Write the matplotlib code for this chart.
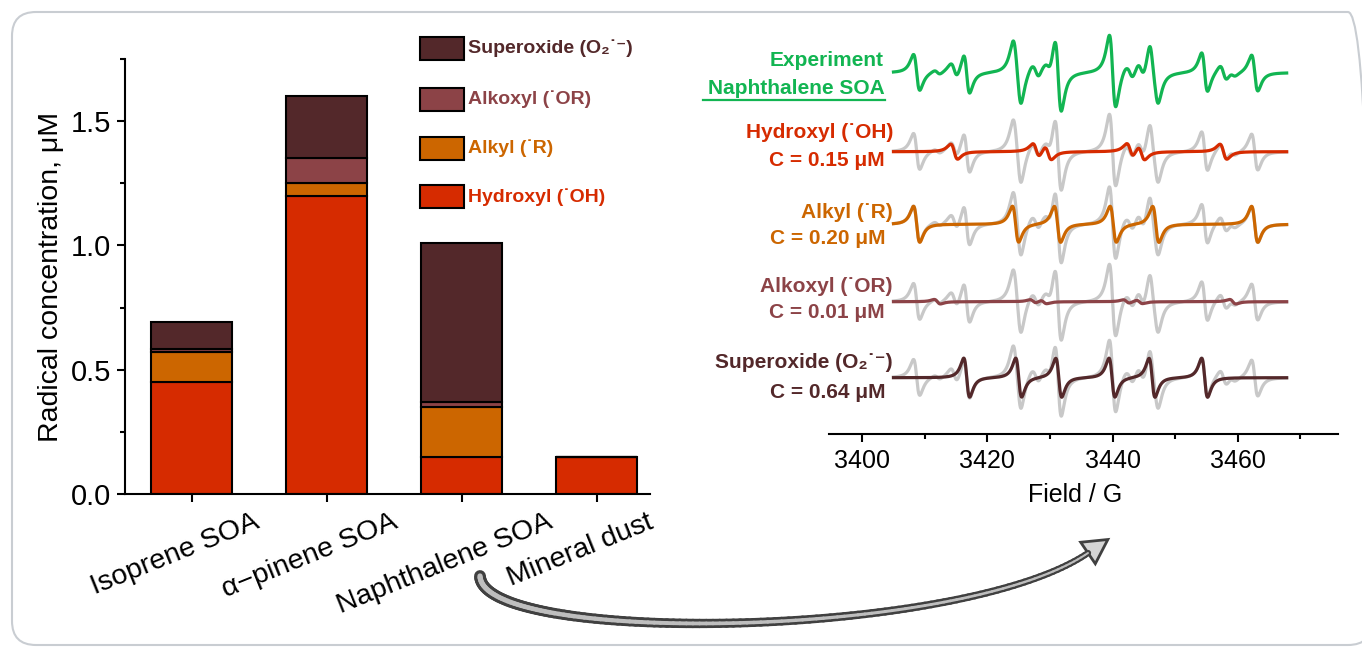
import numpy as np
import matplotlib
matplotlib.use("Agg")
import matplotlib.pyplot as plt
from matplotlib.patches import FancyBboxPatch, Rectangle, Polygon
from matplotlib.lines import Line2D
from matplotlib.collections import LineCollection
from matplotlib.transforms import ScaledTranslation, IdentityTransform
from matplotlib.ticker import MultipleLocator, FixedLocator

plt.rcParams['font.family'] = ['Liberation Sans', 'DejaVu Sans']

# ---------------- bar chart data ----------------
samples = ['Isoprene SOA', 'α−pinene SOA', 'Naphthalene SOA', 'Mineral dust']
hydroxyl = [0.45, 1.20, 0.15, 0.15]
alkyl = [0.12, 0.05, 0.20, 0.00]
alkoxyl = [0.015, 0.10, 0.02, 0.00]
superoxide = [0.105, 0.25, 0.64, 0.00]
species_names = ['Hydroxyl (˙OH)', 'Alkyl (˙R)', 'Alkoxyl (˙OR)', 'Superoxide (O₂˙⁻)']
species_colors = ['#D62B00', '#CC6600', '#8C4347', '#53282A']
yticks_left = [0.0, 0.5, 1.0, 1.5]

# ---------------- EPR spectra data (line positions in G, peak-to-peak heights) ----------------
field_range = [3405.0, 3467.8]
oh_lines = [3414.7, 3427.8, 3429.7, 3442.8, 3444.6, 3457.7]
oh_ptp = [15, 14, 14, 14, 14, 15]
r_lines = [3408.7, 3424.5, 3431.2, 3440.1, 3446.9, 3462.7]
r_ptp = [36, 36, 36, 36, 36, 36]
or_lines = [3412.0, 3427.3, 3429.0, 3442.2, 3444.3, 3459.2]
or_ptp = [4.5, 3.5, 3.5, 3.5, 3.5, 4.5]
o2_lines = [3416.7, 3425.0, 3431.4, 3439.9, 3446.3, 3454.7]
o2_ptp = [39, 39, 39, 39, 39, 39]
line_width_G = [1.1, 1.0, 1.0, 0.95]   # OH, R, OR, O2 peak-to-peak widths
concentrations = ['0.15', '0.20', '0.01', '0.64']
xticks_right = [3400, 3420, 3440, 3460]

W, H = 1362, 650
fig = plt.figure(figsize=(W / 100, H / 100), dpi=100)
fig.patch.set_facecolor('white')


def fx(px):
    return px / W


def fy(py):
    return 1 - py / H


# frame
frame = FancyBboxPatch((12, 5), 1372 - 12, 633, boxstyle="round,pad=0,rounding_size=24",
                       transform=IdentityTransform(), facecolor='none',
                       edgecolor='#C9CDD2', linewidth=1.5, zorder=0)
fig.add_artist(frame)

# ---------------- left: stacked bars ----------------
axL = fig.add_axes([fx(125), fy(494), fx(650) - fx(125), (494 - 59) / H])
xpos = np.arange(len(samples))
stack = [hydroxyl, alkyl, alkoxyl, superoxide]
bottom = np.zeros(len(samples))
for vals, col in zip(stack, species_colors):
    v = np.array(vals)
    axL.bar(xpos, v, 0.6, bottom=bottom, color=col, edgecolor='black', linewidth=1.5, zorder=2)
    bottom += v
axL.set_xlim(-0.496, 3.393)
axL.set_ylim(0, 1.75)
for s in ['top', 'right']:
    axL.spines[s].set_visible(False)
for s in ['left', 'bottom']:
    axL.spines[s].set_linewidth(1.5)
axL.yaxis.set_major_locator(FixedLocator(yticks_left))
axL.yaxis.set_minor_locator(MultipleLocator(0.25))
axL.set_yticklabels([f'{t:.1f}' for t in yticks_left])
axL.set_xticks(xpos)
axL.set_xticklabels(samples, rotation=22, ha='center', va='top')
axL.tick_params(axis='both', which='major', direction='out', length=5.8, width=1.5,
                labelsize=21, pad=4)
axL.tick_params(axis='x', which='major', labelsize=20.5, pad=5)
axL.tick_params(axis='y', which='minor', direction='out', length=3.5, width=1.5)
off = ScaledTranslation(-17 / 100, 0, fig.dpi_scale_trans)
for lab in axL.get_xticklabels():
    lab.set_transform(lab.get_transform() + off)
axL.set_ylabel('Radical concentration, μM', fontsize=20.5)
axL.yaxis.set_label_coords((64 - 125) / 525, 0.5)

# manual legend
leg_y = [48, 99, 148, 197]
for i, idx in enumerate([3, 2, 1, 0]):
    r = Rectangle((fx(420), fy(leg_y[i] + 11.5)), 44 / W, 23 / H, transform=fig.transFigure,
                  facecolor=species_colors[idx], edgecolor='black', linewidth=1.5)
    fig.add_artist(r)
    fig.text(fx(468), fy(leg_y[i]), species_names[idx], ha='left', va='center',
             fontsize=14, fontweight='bold', color=species_colors[idx])

# ---------------- right: EPR spectra ----------------
axR = fig.add_axes([fx(829), fy(434), fx(1338) - fx(829), (434 - 20) / H])
axR.set_xlim(3394.7, 3476.0)
axR.set_ylim(0, 414)
for s in ['top', 'right', 'left']:
    axR.spines[s].set_visible(False)
axR.spines['bottom'].set_linewidth(1.5)
axR.set_yticks([])
axR.xaxis.set_major_locator(FixedLocator(xticks_right))
axR.xaxis.set_minor_locator(MultipleLocator(10))
axR.tick_params(axis='x', which='major', direction='out', length=5.8, width=1.5, labelsize=18, pad=5)
axR.tick_params(axis='x', which='minor', direction='out', length=3.5, width=1.5)
axR.set_xlabel('Field / G', fontsize=18)
axR.xaxis.set_label_coords((1075 - 829) / 509, -0.118)

B = np.linspace(field_range[0], field_range[1], 3000)


def spectrum(centers, ptp, hpp):
    g = hpp * np.sqrt(3) / 2
    y = np.zeros_like(B)
    for c, a in zip(centers, ptp):
        u = (B - c) / g
        y += a * (-2 * u / (1 + u ** 2) ** 2) / 1.299
    return y


comps = [spectrum(oh_lines, oh_ptp, line_width_G[0]),
         spectrum(r_lines, r_ptp, line_width_G[1]),
         spectrum(or_lines, or_ptp, line_width_G[2]),
         spectrum(o2_lines, o2_ptp, line_width_G[3])]
experiment = comps[0] + comps[1] + comps[2] + comps[3]

green = '#12B552'
exp_base = 434 - 72.7
row_base = [434 - 151.7, 434 - 224.3, 434 - 301.7, 434 - 377.7]
axR.plot(B, experiment + exp_base, color=green, lw=2.3, solid_joinstyle='round')
for comp, base, col in zip(comps, row_base, species_colors):
    axR.plot(B, experiment + base, color='#C8C8C8', lw=2.3)
    axR.plot(B, comp + base, color=col, lw=2.3)

# right panel labels
fig.text(fx(884), fy(60), 'Experiment', ha='right', va='center', fontsize=15,
         fontweight='bold', color=green)
fig.text(fx(885), fy(88), 'Naphthalene SOA', ha='right', va='center', fontsize=15,
         fontweight='bold', color=green)
fig.add_artist(Line2D([fx(703), fx(885)], [fy(100), fy(100)], color=green, lw=1.6,
                      transform=fig.transFigure))
name_y = [133, 212, 287, 363]
conc_y = [160, 238, 313, 392]
for i in range(4):
    fig.text(fx(893), fy(name_y[i]), species_names[i], ha='right', va='center', fontsize=15,
             fontweight='bold', color=species_colors[i])
    fig.text(fx(885), fy(conc_y[i]), f'C = {concentrations[i]} μM', ha='right', va='center',
             fontsize=15, fontweight='bold', color=species_colors[i])

# ---------------- curved, tapered arrow ----------------
P = np.array([(480, 576), (482, 645), (960, 640), (1088, 553)], float)
t = np.linspace(0, 1, 120)[:, None]
curve = ((1 - t) ** 3 * P[0] + 3 * (1 - t) ** 2 * t * P[1] +
         3 * (1 - t) * t ** 2 * P[2] + t ** 3 * P[3])
pts = np.column_stack([curve[:, 0] / W, 1 - curve[:, 1] / H])
segs = np.stack([pts[:-1], pts[1:]], axis=1)
tm = t[:-1, 0]
outer = LineCollection(segs, linewidths=8.5 - 4.0 * tm, colors='#404040',
                       transform=fig.transFigure, capstyle='round')
inner = LineCollection(segs, linewidths=3.8 - 2.4 * tm, colors='#BEBEBE',
                       transform=fig.transFigure, capstyle='round')
fig.add_artist(outer)
fig.add_artist(inner)
d = P[3] - P[2]
d /= np.hypot(*d)
n = np.array([-d[1], d[0]])
tip = P[3] + 24 * d
b1 = P[3] + 13 * n
b2 = P[3] - 13 * n
head = Polygon([(fx(p[0]), fy(p[1])) for p in [tip, b1, b2]], closed=True,
               transform=fig.transFigure, facecolor='#D5D5D5', edgecolor='#404040', lw=2)
fig.add_artist(head)

fig.savefig('out.png', dpi=100, facecolor='white')
